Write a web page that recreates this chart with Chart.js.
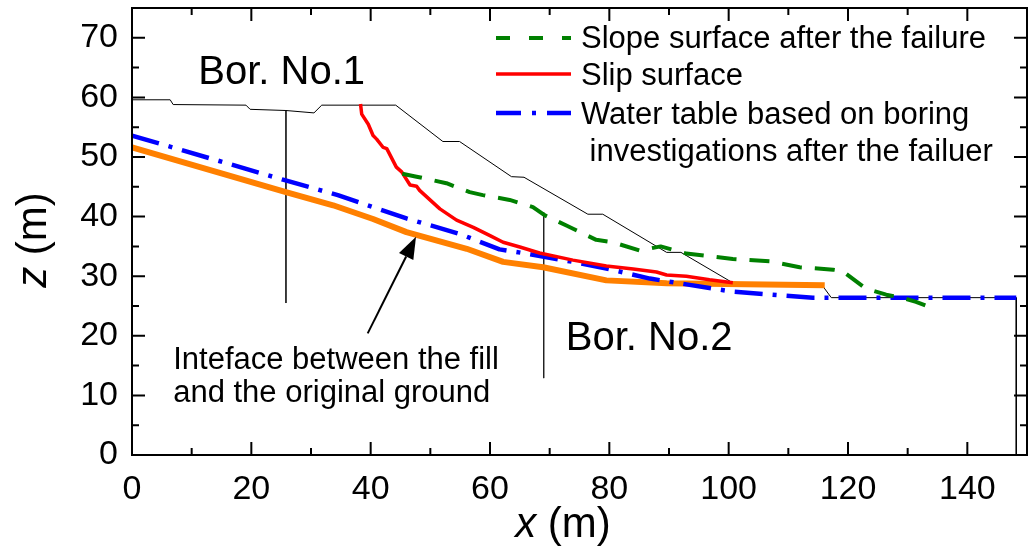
<!DOCTYPE html>
<html>
<head>
<meta charset="utf-8">
<script src="https://cdn.jsdelivr.net/npm/chart.js@4.4.0/dist/chart.umd.min.js"></script>
<style>
  html, body { margin: 0; padding: 0; background: #fff; }
  #wrap { width: 1032px; height: 548px; }
</style>
</head>
<body>
<div id="wrap"><canvas id="chart" width="1032" height="548"></canvas></div>
<script>
const FONT = 'Arial, "Liberation Sans", sans-serif';

// original slope surface (thin black)
const slopeX = [0, 6.4, 6.9, 19.1, 19.8, 25.8, 30.5, 31.8, 44.2, 52.1, 54.9, 63.6, 65.7, 76.4, 78.9, 89.6, 92.0, 100.5, 115.8, 117.2, 148.2, 148.2];
const slopeZ = [59.6, 59.6, 58.8, 58.7, 58.0, 57.8, 57.4, 58.7, 58.7, 52.6, 52.6, 46.7, 46.6, 40.4, 40.4, 34.0, 34.0, 29.0, 28.3, 26.4, 26.4, 0];

// slope surface after the failure
const afterX = [45.3, 47.7, 52.7, 56.6, 58.8, 63.3, 67.2, 69.2, 72.8, 77.8, 80.6, 85.1, 88.6, 92.9, 100.7, 106.9, 111.9, 117.5, 119.0, 123.0, 126.4, 129.0, 131.4, 134.5];
const afterZ = [47.2, 46.7, 45.6, 44.1, 43.6, 42.8, 41.6, 40.2, 38.5, 36.1, 35.7, 34.3, 35.0, 33.8, 32.9, 32.5, 31.5, 31.1, 30.9, 27.9, 26.9, 26.4, 25.7, 24.5];

// slip surface
const slipX = [38.3, 38.5, 39.6, 40.4, 41.0, 42.1, 42.7, 44.3, 45.2, 46.6, 47.7, 48.2, 51.6, 54.4, 57.2, 60.0, 62.2, 65.0, 68.3, 73.9, 79.5, 84.0, 87.9, 89.6, 92.9, 96.8, 100.7];
const slipZ = [58.9, 57.2, 55.5, 53.6, 53.0, 51.6, 51.4, 48.3, 47.5, 45.3, 45.1, 44.4, 41.3, 39.4, 38.2, 36.8, 35.7, 34.9, 33.9, 32.7, 31.7, 31.2, 30.7, 30.2, 30.0, 29.4, 28.9];

// water table
const waterX = [0, 25.3, 34.5, 46.0, 54.9, 61.6, 66.1, 73.9, 79.5, 86.8, 100.7, 114.1, 148.2];
const waterZ = [53.6, 46.2, 43.6, 39.7, 37.1, 34.5, 33.8, 32.4, 31.3, 29.6, 27.4, 26.4, 26.4];

// interface between fill and original ground
const interX = [0, 25.8, 33.7, 40.4, 46.0, 56.1, 62.2, 68.9, 79.5, 89.6, 116.1];
const interZ = [51.6, 44.1, 41.9, 39.6, 37.4, 34.6, 32.4, 31.5, 29.3, 28.8, 28.5];

// boreholes
const bor1X = [25.8, 25.8], bor1Z = [57.8, 25.5];
const bor2X = [69.0, 69.0], bor2Z = [40.7, 12.9];

// arrow (tail -> tip)
const arrowX = [39.5, 47.6], arrowZ = [20.4, 36.6];

// tick labels
const xTicks = [0, 20, 40, 60, 80, 100, 120, 140];
const zTicks = [0, 10, 20, 30, 40, 50, 60, 70];

const legendLabels = ['Slope surface after the failure', 'Slip surface',
  'Water table based on boring', ' investigations after the failuer'];

function pts(xs, zs) { return xs.map((x, i) => ({ x: x, y: zs[i] })); }

function line(data, color, width, dash) {
  return {
    data: data, showLine: true, borderColor: color, borderWidth: width,
    borderDash: dash || [], pointRadius: 0, tension: 0, fill: false,
    borderCapStyle: 'butt', borderJoinStyle: 'round'
  };
}

const decor = {
  id: 'decor',
  afterDraw(chart) {
    const c = chart.ctx, a = chart.chartArea;
    const xs = chart.scales.x, ys = chart.scales.y;
    c.save();
    // frame
    c.strokeStyle = '#000';
    c.lineWidth = 2;
    c.strokeRect(a.left, a.top, a.right - a.left, a.bottom - a.top);
    // inward ticks on all sides
    for (let v = 10; v < 150; v += 10) {
      const p = xs.getPixelForValue(v);
      const len = v % 20 === 0 ? 13 : 7;
      c.beginPath();
      c.moveTo(p, a.bottom); c.lineTo(p, a.bottom - len);
      c.moveTo(p, a.top); c.lineTo(p, a.top + len);
      c.stroke();
    }
    for (let v = 5; v < 75; v += 5) {
      const p = ys.getPixelForValue(v);
      const len = v % 10 === 0 ? 13 : 7;
      c.beginPath();
      c.moveTo(a.left, p); c.lineTo(a.left + len, p);
      c.moveTo(a.right, p); c.lineTo(a.right - len, p);
      c.stroke();
    }

    // arrow
    const tx = xs.getPixelForValue(arrowX[0]), ty = ys.getPixelForValue(arrowZ[0]);
    const hx = xs.getPixelForValue(arrowX[1]), hy = ys.getPixelForValue(arrowZ[1]);
    const ang = Math.atan2(hy - ty, hx - tx);
    const hl = 22, hw = 8;
    const bx = hx - hl * Math.cos(ang), by = hy - hl * Math.sin(ang);
    c.lineWidth = 2;
    c.beginPath(); c.moveTo(tx, ty); c.lineTo(bx, by); c.stroke();
    c.fillStyle = '#000';
    c.beginPath();
    c.moveTo(hx, hy);
    c.lineTo(bx + hw * Math.sin(ang), by - hw * Math.cos(ang));
    c.lineTo(bx - hw * Math.sin(ang), by + hw * Math.cos(ang));
    c.closePath(); c.fill();

    // text labels
    c.fillStyle = '#000';
    c.textAlign = 'left';
    c.textBaseline = 'alphabetic';
    c.font = '40px ' + FONT;
    c.fillText('Bor. No.1', xs.getPixelForValue(11.1), ys.getPixelForValue(62.3));
    c.fillText('Bor. No.2', xs.getPixelForValue(72.7), ys.getPixelForValue(17.6));
    c.font = '31px ' + FONT;
    c.fillText('Inteface between the fill', xs.getPixelForValue(6.9), ys.getPixelForValue(14.4));
    c.fillText('and the original ground', xs.getPixelForValue(6.9), ys.getPixelForValue(8.9));

    // legend
    const lx0 = 496, lx1 = 571, tx0 = 581;
    const rows = [
      { y: 38, base: 48, color: '#008000', w: 4, dash: [14, 19] },
      { y: 74, base: 85, color: '#ff0000', w: 3.5, dash: [] },
      { y: 113, base: 124, color: '#0000ff', w: 4.5, dash: [25, 11, 4, 11] },
      { y: null, base: 161 }
    ];
    c.font = '31px ' + FONT;
    rows.forEach((r, i) => {
      if (r.y !== null) {
        c.strokeStyle = r.color;
        c.lineWidth = r.w;
        c.setLineDash(r.dash);
        c.beginPath(); c.moveTo(lx0, r.y); c.lineTo(lx1, r.y); c.stroke();
        c.setLineDash([]);
      }
      c.fillText(legendLabels[i], tx0, r.base);
    });

    // axis titles
    function title(txt1, txt2, x, y, rot) {
      c.save();
      c.translate(x, y);
      c.rotate(rot);
      c.font = 'italic 42px ' + FONT;
      const w1 = c.measureText(txt1).width;
      c.font = '42px ' + FONT;
      const w2 = c.measureText(txt2).width;
      let s = -(w1 + w2) / 2;
      c.font = 'italic 42px ' + FONT;
      c.fillText(txt1, s, 0);
      c.font = '42px ' + FONT;
      c.fillText(txt2, s + w1, 0);
      c.restore();
    }
    title('z', ' (m)', 46, 240, -Math.PI / 2);
    title('x', ' (m)', 563, 537, 0);
    c.restore();
  }
};

const ctx = document.getElementById('chart').getContext('2d');
const chart = new Chart(ctx, {
  type: 'scatter',
  data: {
    datasets: [
      line(pts(afterX, afterZ), '#008000', 4, [20, 13]),
      line(pts(slipX, slipZ), '#ff0000', 3.5),
      line(pts(waterX, waterZ), '#0000ff', 4.5, [28, 10, 4, 10]),
      line(pts(interX, interZ), '#ff8000', 6),
      line(pts(slopeX, slopeZ), '#000000', 1),
      line(pts(bor1X, bor1Z), '#222222', 1),
      line(pts(bor2X, bor2Z), '#222222', 1)
    ]
  },
  plugins: [decor],
  options: {
    responsive: false,
    animation: false,
    events: [],
    layout: { padding: { top: 8, right: 5, left: 0, bottom: 0 } },
    plugins: { legend: { display: false }, tooltip: { enabled: false } },
    scales: {
      x: {
        type: 'linear', min: 0, max: 150,
        grid: { display: false, drawTicks: false }, border: { display: false },
        ticks: { color: '#000', padding: 14, maxRotation: 0, autoSkip: false,
          font: { family: FONT, size: 34 } },
        afterBuildTicks: (s) => { s.ticks = xTicks.map(v => ({ value: v })); },
        afterFit: (s) => { s.height = 93; s.paddingLeft = 0; s.paddingRight = 0; }
      },
      y: {
        type: 'linear', min: 0, max: 75,
        grid: { display: false, drawTicks: false }, border: { display: false },
        ticks: { color: '#000', padding: 14,
          font: { family: FONT, size: 34 } },
        afterBuildTicks: (s) => { s.ticks = zTicks.map(v => ({ value: v })); },
        afterFit: (s) => { s.width = 132; s.paddingTop = 0; s.paddingBottom = 0; }
      }
    }
  }
});
</script>
</body>
</html>
